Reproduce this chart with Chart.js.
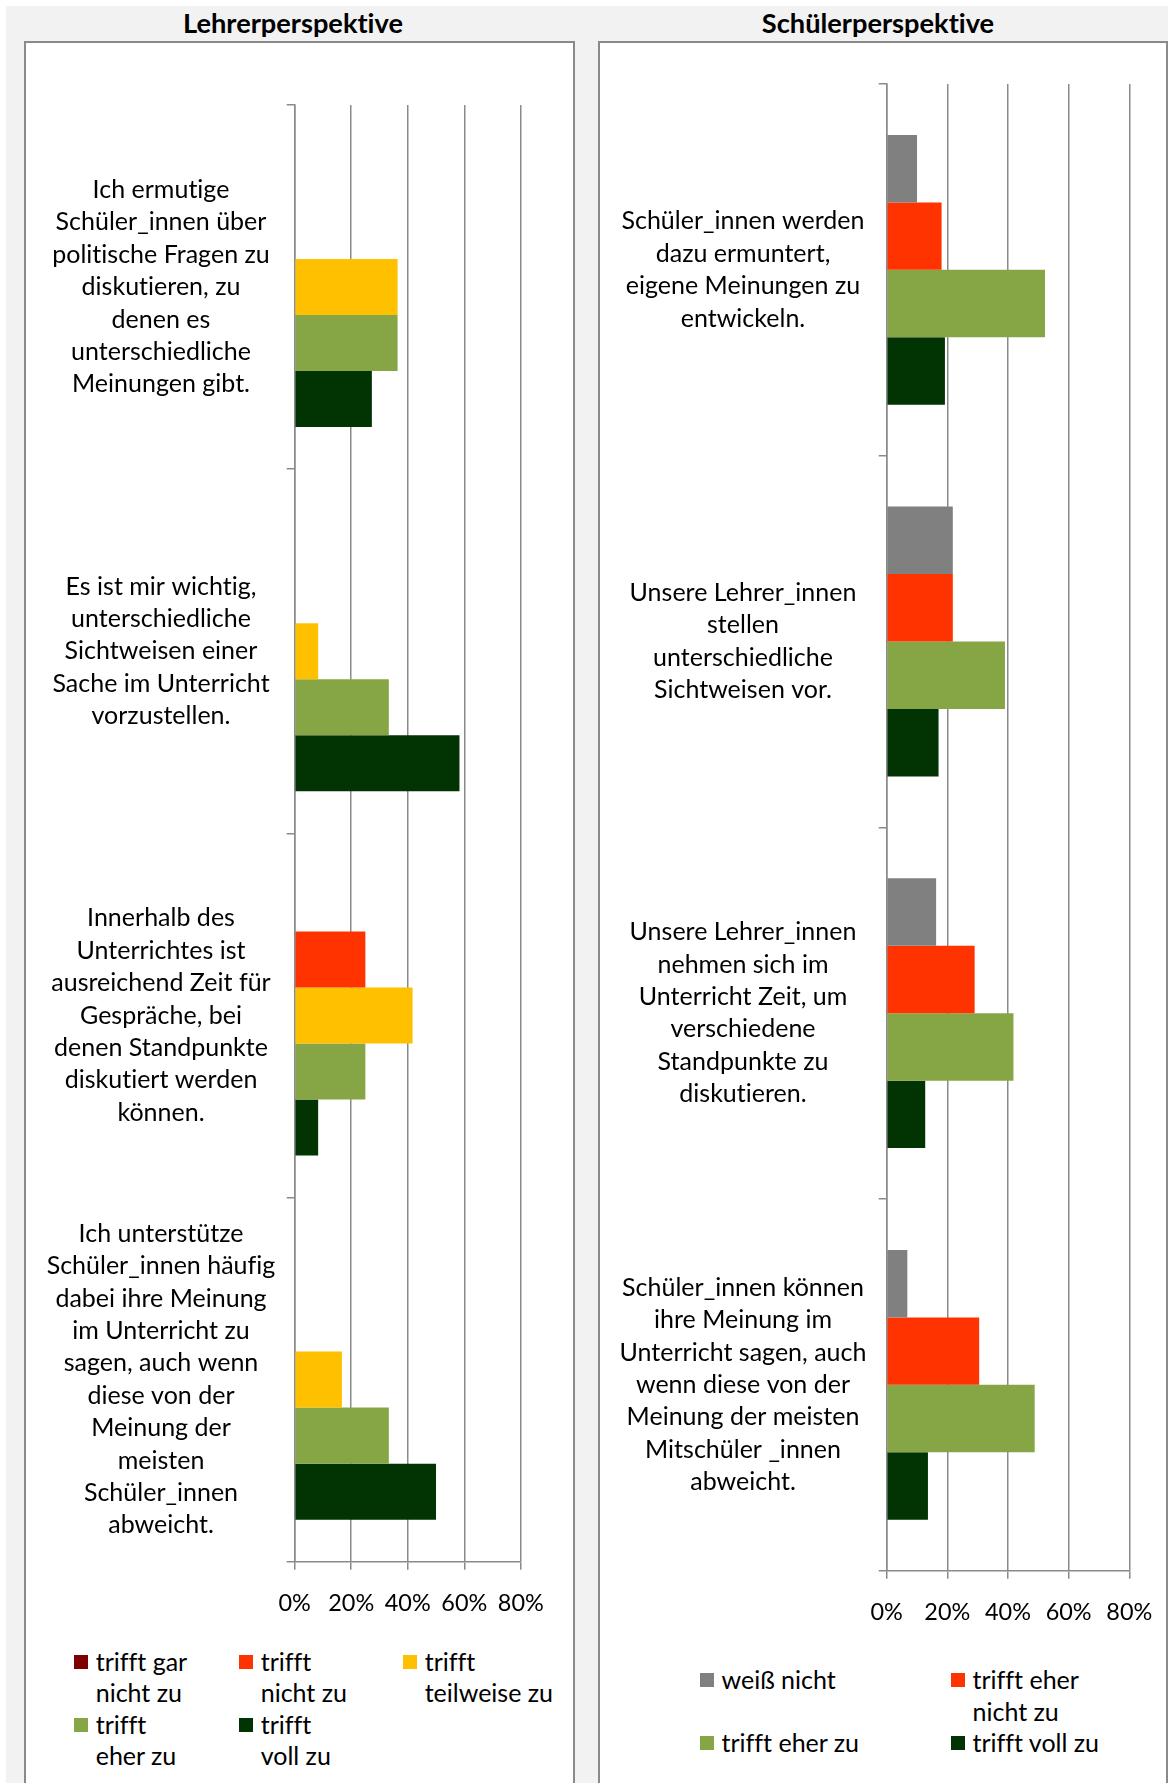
<!DOCTYPE html>
<html>
<head>
<meta charset="utf-8">
<title>Lehrerperspektive / Schülerperspektive</title>
<script src="https://cdn.jsdelivr.net/npm/chart.js@4.4.1/dist/chart.umd.min.js"></script>
<style>
  html, body { margin:0; padding:0; background:#ffffff; }
  body { position:relative; width:1168px; height:1783px; overflow:hidden; font-family:'Lato', sans-serif; color:#000; font-variant-ligatures:none; font-feature-settings:"liga" 0, "clig" 0; }
  #frame { position:absolute; left:6px; top:6px; right:0; bottom:0; background:#f2f2f2; }
  .panel { position:absolute; top:41px; height:1760px; background:#fff; border:2px solid #8a8a8a; border-bottom:none; box-sizing:border-box; }
  #pL { left:24px; width:551px; }
  #pR { left:598px; width:570px; }
  .title { position:absolute; font-weight:700; line-height:1; white-space:nowrap; transform:translateX(-50%); }
  canvas { position:absolute; font-variant-ligatures:none; }
  .lg-box { position:absolute; }
  .lg-text { position:absolute; white-space:nowrap; }
</style>
</head>
<body>
<div id="frame"></div>
<div class="panel" id="pL"></div>
<div class="panel" id="pR"></div>
<div class="title" id="tL">Lehrerperspektive</div>
<div class="title" id="tR">Schülerperspektive</div>
<canvas id="cL" width="547" height="1600" style="left:26px;top:43px;width:547px;height:1600px"></canvas>
<canvas id="cR" width="566" height="1600" style="left:600px;top:43px;width:566px;height:1600px"></canvas>
<div id="legL"></div>
<div id="legR"></div>
<script>
// ---------------- DATA ----------------
const teacherCategories = [
  ["Ich ermutige", "Schüler_innen über", "politische Fragen zu", "diskutieren, zu", "denen es", "unterschiedliche", "Meinungen gibt."],
  ["Es ist mir wichtig,", "unterschiedliche", "Sichtweisen einer", "Sache im Unterricht", "vorzustellen."],
  ["Innerhalb des", "Unterrichtes ist", "ausreichend Zeit für", "Gespräche, bei", "denen Standpunkte", "diskutiert werden", "können."],
  ["Ich unterstütze", "Schüler_innen häufig", "dabei ihre Meinung", "im Unterricht zu", "sagen, auch wenn", "diese von der", "Meinung der", "meisten", "Schüler_innen", "abweicht."]
];
const teacherSeries = ["trifft gar nicht zu", "trifft nicht zu", "trifft teilweise zu", "trifft eher zu", "trifft voll zu"];
const teacherGarNicht = [0, 0, 0, 0];
const teacherNicht    = [0, 0, 25.0, 0];
const teacherTeilweise = [36.4, 8.3, 41.7, 16.7];
const teacherEher     = [36.4, 33.3, 25.0, 33.3];
const teacherVoll     = [27.3, 58.3, 8.3, 50.0];
const teacherColors = ["#7f0000", "#ff3300", "#ffc000", "#86a646", "#023302"];
const teacherLegendLines = [["trifft gar", "nicht zu"], ["trifft", "nicht zu"], ["trifft", "teilweise zu"], ["trifft", "eher zu"], ["trifft", "voll zu"]];

const studentCategories = [
  ["Schüler_innen werden", "dazu ermuntert,", "eigene Meinungen zu", "entwickeln."],
  ["Unsere Lehrer_innen", "stellen", "unterschiedliche", "Sichtweisen vor."],
  ["Unsere Lehrer_innen", "nehmen sich im", "Unterricht Zeit, um", "verschiedene", "Standpunkte zu", "diskutieren."],
  ["Schüler_innen können", "ihre Meinung im", "Unterricht sagen, auch", "wenn diese von der", "Meinung der meisten", "Mitschüler _innen", "abweicht."]
];
const studentSeries = ["weiß nicht", "trifft eher nicht zu", "trifft eher zu", "trifft voll zu"];
const studentWeissNicht = [10.0, 21.8, 16.3, 6.8];
const studentEherNicht  = [18.1, 21.8, 29.0, 30.5];
const studentEherZu     = [52.2, 39.0, 41.8, 48.8];
const studentVoll       = [19.2, 17.1, 12.7, 13.6];
const studentColors = ["#808080", "#ff3300", "#86a646", "#023302"];
const studentLegendLines = [["weiß nicht"], ["trifft eher", "nicht zu"], ["trifft eher zu"], ["trifft voll zu"]];

const xTickLabels = ["0%", "20%", "40%", "60%", "80%"];
const xMax = 80;
const xStep = 20;

// ---------------- STYLE ----------------
const FONT = "Lato";
function noLig(ctx) {
  try { ctx.textRendering = "optimizeSpeed"; } catch (e) {}
  try { ctx.letterSpacing = "0.01px"; } catch (e) {}
}
const mctx = document.createElement("canvas").getContext("2d");
noLig(mctx);
function fitSize(text, target, weight) {
  mctx.font = (weight || "normal") + " 100px " + FONT;
  return Math.round(10000 * target / mctx.measureText(text).width) / 100;
}
const LABEL_SIZE = fitSize("Schüler_innen werden", 243);
const TICK_SIZE = fitSize("80%", 46);
const TITLE_SIZE = fitSize("Lehrerperspektive", 220, "bold");
const LEGEND_SIZE = LABEL_SIZE;
const LINE_H = 32.4;
const TICK_LEN = 8;
const GRID = "#8a8a8a";
const GRID_W = 1.5;
const XH = 60;

const noLigPlugin = {
  id: "noLigatures",
  beforeInit(chart) { noLig(chart.ctx); },
  beforeUpdate(chart) { noLig(chart.ctx); },
  beforeLayout(chart) { noLig(chart.ctx); },
  beforeDraw(chart) { noLig(chart.ctx); }
};

// titles
function placeTitle(id, cx, baseline) {
  const el = document.getElementById(id);
  el.style.fontSize = TITLE_SIZE + "px";
  el.style.left = cx + "px";
  el.style.top = (baseline - 0.887 * TITLE_SIZE) + "px";
}
placeTitle("tL", 293, 33.3);
placeTitle("tR", 878, 33.3);

function makeChart(canvasId, cats, names, values, colors, g) {
  mctx.font = LABEL_SIZE + "px " + FONT;
  let widest = 0;
  cats.forEach(c => c.forEach(l => { widest = Math.max(widest, mctx.measureText(l).width); }));
  const pad = g.axisLeft - g.labelCenter - TICK_LEN - widest / 2;
  return new Chart(document.getElementById(canvasId), {
    type: "bar",
    plugins: [noLigPlugin],
    data: {
      labels: cats,
      datasets: names.map((n, i) => ({
        label: n,
        data: values[i],
        backgroundColor: colors[i],
        borderWidth: 0,
        categoryPercentage: g.catPct,
        barPercentage: 1
      }))
    },
    options: {
      indexAxis: "y",
      responsive: false,
      maintainAspectRatio: false,
      animation: false,
      devicePixelRatio: 1,
      layout: { padding: { top: g.top, left: 0, right: g.W - g.right, bottom: g.H - g.bottom - XH } },
      plugins: { legend: { display: false }, tooltip: { enabled: false }, title: { display: false } },
      scales: {
        y: {
          type: "category",
          offset: true,
          grid: { offset: true, drawOnChartArea: false, drawTicks: true, tickLength: TICK_LEN, color: GRID, lineWidth: GRID_W },
          border: { display: true, color: GRID, width: GRID_W },
          ticks: { font: { family: FONT, size: LABEL_SIZE, lineHeight: LINE_H + "px" }, color: "#000", padding: pad, crossAlign: "center", autoSkip: false },
          afterFit(s) { s.width = g.axisLeft; s.paddingTop = 0; s.paddingBottom = 0; }
        },
        x: {
          type: "linear",
          min: 0,
          max: xMax,
          grid: { color: GRID, lineWidth: GRID_W, drawTicks: true, tickLength: TICK_LEN },
          border: { display: true, color: GRID, width: GRID_W },
          ticks: { stepSize: xStep, autoSkip: false, maxRotation: 0, padding: 18, color: "#000",
                   font: { family: FONT, size: TICK_SIZE, lineHeight: LINE_H + "px" },
                   callback: (v, i) => xTickLabels[i] },
          afterFit(s) { s.height = XH; s.paddingLeft = 0; s.paddingRight = 0; }
        }
      }
    }
  });
}

makeChart("cL", teacherCategories, teacherSeries,
  [teacherGarNicht, teacherNicht, teacherTeilweise, teacherEher, teacherVoll], teacherColors,
  { W: 547, H: 1600, axisLeft: 268.7, right: 494.8, top: 62, bottom: 1518.7, labelCenter: 135, catPct: 0.769 });

makeChart("cR", studentCategories, studentSeries,
  [studentWeissNicht, studentEherNicht, studentEherZu, studentVoll], studentColors,
  { W: 566, H: 1600, axisLeft: 286.7, right: 529.3, top: 41, bottom: 1527.7, labelCenter: 143, catPct: 0.726 });

// legends (HTML), built from series colours and names
function buildLegend(containerId, lines, colors, cols, rows, textOffset) {
  const box = document.getElementById(containerId);
  const LH = 31.5;
  lines.forEach((ln, i) => {
    const cx = cols[i % cols.length];
    const cy = rows[Math.floor(i / cols.length)];
    const m = document.createElement("div");
    m.className = "lg-box";
    m.style.cssText = `left:${cx}px;top:${cy - 7}px;width:14px;height:14px;background:${colors[i]}`;
    box.appendChild(m);
    const t = document.createElement("div");
    t.className = "lg-text";
    t.style.cssText = `left:${cx + textOffset}px;top:${cy - LH / 2}px;font-size:${LEGEND_SIZE}px;line-height:${LH}px`;
    ln.forEach((s, k) => {
      if (k) t.appendChild(document.createElement("br"));
      t.appendChild(document.createTextNode(s));
    });
    box.appendChild(t);
  });
}
buildLegend("legL", teacherLegendLines, teacherColors, [74, 239, 403], [1661.5, 1724.5], 21.7);
buildLegend("legR", studentLegendLines, studentColors, [700, 951], [1680, 1742.6], 21.5);
</script>
</body>
</html>
